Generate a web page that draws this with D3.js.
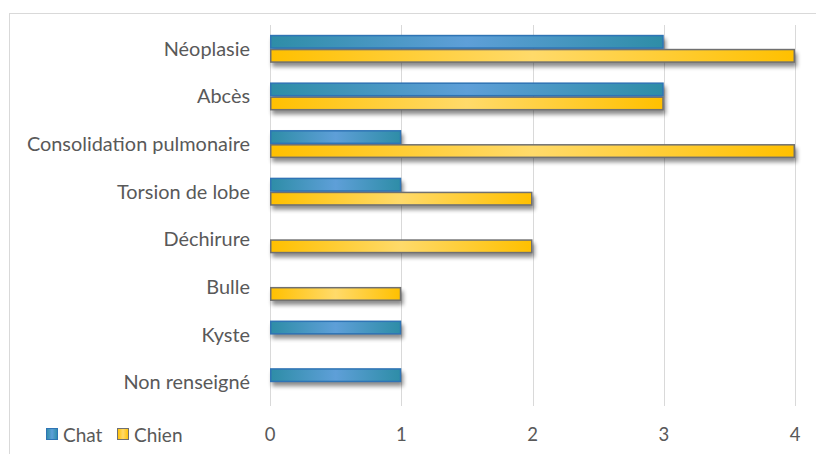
<!DOCTYPE html>
<html><head><meta charset="utf-8">
<script src="https://cdn.jsdelivr.net/npm/d3@7/dist/d3.min.js"></script>
<style>html,body{margin:0;padding:0;background:#fff;}svg{display:block;}</style>
</head><body>
<svg id="chart" width="816" height="454"></svg>
<script>
const categories = ["Néoplasie","Abcès","Consolidation pulmonaire","Torsion de lobe","Déchirure","Bulle","Kyste","Non renseigné"];
const seriesNames = ["Chat","Chien"];
const chatValues = [3,3,1,1,0,0,1,1];
const chienValues = [4,3,4,2,2,1,0,0];
const xTicks = [0,1,2,3,4];

const svg = d3.select("#chart");
const font = "Lato, 'Open Sans', sans-serif";
const textColor = "#595959";

const defs = svg.append("defs");
function grad(id, edge, mid){
  const g = defs.append("linearGradient").attr("id", id).attr("x1","0").attr("x2","1").attr("y1","0").attr("y2","0");
  g.append("stop").attr("offset","0").attr("stop-color", edge);
  g.append("stop").attr("offset","0.5").attr("stop-color", mid);
  g.append("stop").attr("offset","1").attr("stop-color", edge);
}
grad("gChat", "#2E8DA7", "#5E9FD8");
grad("gChien", "#FFC000", "#FFDA6A");
const f = defs.append("filter").attr("id","blur").attr("x","-10%").attr("y","-50%").attr("width","120%").attr("height","200%");
f.append("feGaussianBlur").attr("stdDeviation", 2);

// outer border
svg.append("rect").attr("x",9.5).attr("y",13.5).attr("width",820).attr("height",460)
  .attr("fill","none").attr("stroke","#D9D9D9").attr("stroke-width",1);

const x = d3.scaleLinear().domain([0,4]).range([270,795]);
const y = d3.scaleBand().domain(categories).range([25,406]);
const bh = 14;
const ySub = d3.scaleBand().domain(seriesNames).range([y.bandwidth()/2 - bh, y.bandwidth()/2 + bh]);

// gridlines
svg.append("g").selectAll("line").data(xTicks).join("line")
  .attr("x1", d => Math.round(x(d))+0.5).attr("x2", d => Math.round(x(d))+0.5)
  .attr("y1", 25).attr("y2", 406)
  .attr("stroke", "#D9D9D9").attr("stroke-width", 1);

// tick labels
svg.append("g").selectAll("text").data(xTicks).join("text")
  .attr("x", d => x(d)).attr("y", 435).attr("dy","0.35em")
  .attr("text-anchor","middle").attr("font-family",font).attr("font-size",18.5)
  .attr("fill",textColor).text(d => d);

// category labels
svg.append("g").selectAll("text").data(categories).join("text")
  .attr("x", 250).attr("y", d => y(d) + y.bandwidth()/2).attr("dy","0.35em")
  .attr("text-anchor","end").attr("font-family",font).attr("font-size",19.9)
  .attr("fill",textColor).text(d => d);

const rows = [];
categories.forEach((c,i) => {
  rows.push({cat:c, s:"Chien", v:chienValues[i]});
  rows.push({cat:c, s:"Chat", v:chatValues[i]});
});
const bars = rows.filter(r => r.v > 0);

// shadows
svg.append("g").selectAll("rect").data(bars).join("rect")
  .attr("x", d => x(0)+2).attr("y", d => y(d.cat)+ySub(d.s)+4)
  .attr("width", d => x(d.v)-x(0)).attr("height", bh)
  .attr("fill","#000").attr("opacity",0.45).attr("filter","url(#blur)");

// bars
svg.append("g").selectAll("rect").data(bars).join("rect")
  .attr("x", d => x(0)+0.75).attr("y", d => y(d.cat)+ySub(d.s)+0.75)
  .attr("width", d => x(d.v)-x(0)-1.5).attr("height", bh-1.5)
  .attr("fill", d => d.s==="Chat" ? "url(#gChat)" : "url(#gChien)")
  .attr("stroke", d => d.s==="Chat" ? "#2F74B5" : "#707070")
  .attr("stroke-width", 1.5);

// legend
const legend = svg.append("g");
const lx = [46, 117];
seriesNames.forEach((s,i) => {
  legend.append("rect").attr("x", lx[i]+0.5).attr("y", 428.5).attr("width", 11).attr("height", 11)
    .attr("fill", s==="Chat" ? "url(#gChat)" : "url(#gChien)")
    .attr("stroke", s==="Chat" ? "#2F74B5" : "#707070").attr("stroke-width",1);
  legend.append("text").attr("x", lx[i]+17).attr("y", 435).attr("dy","0.35em")
    .attr("font-family",font).attr("font-size",19).attr("fill",textColor).text(s);
});
</script>
</body></html>
